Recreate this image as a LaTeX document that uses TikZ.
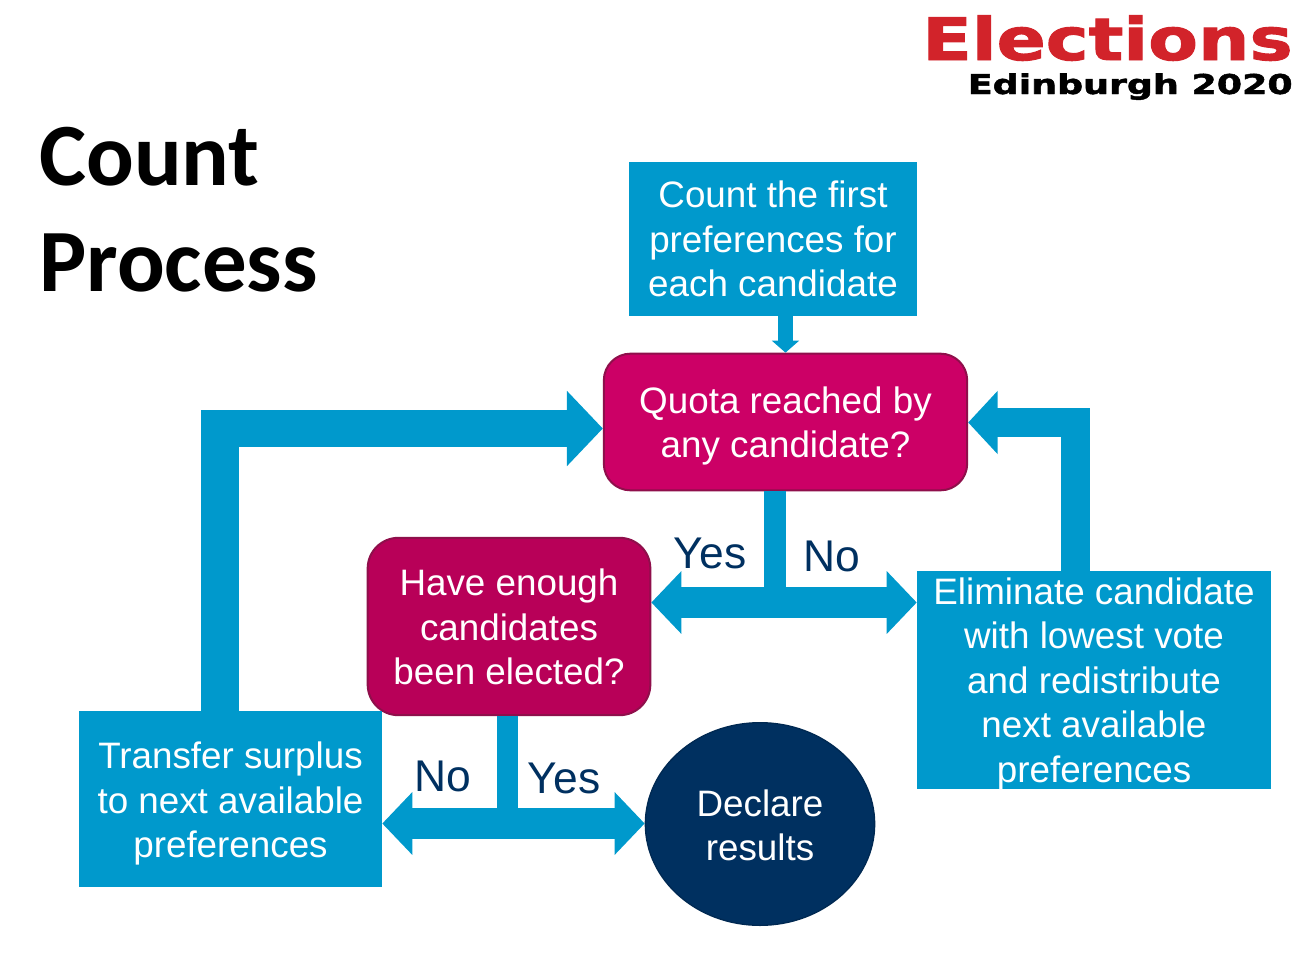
\documentclass[tikz,border=0pt]{standalone}
\usepackage{fontspec}
\setmainfont{Liberation Sans}
\newfontfamily\titlefont{Carlito}
\newfontfamily\logofont[BoldFeatures={FakeBold=1.6}]{DejaVu Sans}
\usetikzlibrary{arrows.meta,shapes.geometric}
\definecolor{flowblue}{HTML}{0099CC}
\definecolor{quotared}{HTML}{CC0066}
\definecolor{enoughred}{HTML}{B80058}
\definecolor{edgered}{HTML}{8F0F4B}
\definecolor{navy}{HTML}{003060}
\definecolor{logored}{HTML}{D2232A}
\newcommand{\dropline}[1]{\rule{0pt}{#1}}
\tikzset{
  boxtext/.style={text=white, align=center, inner sep=0pt,
    font=\fontsize{27.6}{33.4}\selectfont},
  bluebox/.style={boxtext, fill=flowblue},
  askbox/.style={boxtext, draw=edgered, line width=1.5pt, rounded corners=20pt},
  answer/.style={text=navy, inner sep=0pt, font=\fontsize{33.3}{38}\selectfont},
  flow/.style={draw=flowblue, line width=#1, line join=miter},
  flow/.default=23.25pt,
  bothheads/.style={{Triangle[length=22.5pt,width=45.75pt]}-{Triangle[length=22.5pt,width=45.75pt]}},
}
\begin{document}
\begin{tikzpicture}[x=0.75pt, y=-0.75pt]
\useasboundingbox (0,0) rectangle (1309,967);

% Title and logo
\node[anchor=base west, inner sep=0pt, align=left, font=\titlefont\bfseries\fontsize{66.7}{79.5}\selectfont] (title) at (39,291) {Count\\Process};
\node[anchor=base east, inner sep=0pt, text=logored, xscale=1.235, font=\logofont\bfseries\fontsize{44}{50}\selectfont] (logotop) at (1293,60) {Elections};
\node[anchor=base east, inner sep=0pt, xscale=1.33, font=\logofont\bfseries\fontsize{20.5}{24}\selectfont] (logobot) at (1293,94) {Edinburgh 2020};

% Boxes
\node[bluebox, minimum width=216pt, minimum height=115.5pt] (count) at (773,239) {Count the first\\preferences for\\each candidate};
\node[askbox, fill=quotared, minimum width=272.5pt, minimum height=102.5pt] (quota) at (785.5,422) {\dropline{26pt}Quota reached by\\any candidate?};
\node[askbox, fill=enoughred, minimum width=212pt, minimum height=133pt, rounded corners=23pt] (enough) at (509,626.5) {\dropline{21pt}Have enough\\candidates\\been elected?};
\node[bluebox, minimum width=265.5pt, minimum height=163.5pt] (elim) at (1094,680) {Eliminate candidate\\with lowest vote\\and redistribute\\next available\\\smash{preferences}};
\node[bluebox, minimum width=227.25pt, minimum height=132pt] (transfer) at (230.5,799) {\dropline{26.8pt}Transfer surplus\\to next available\\preferences};
\node[boxtext, ellipse, fill=navy, draw=navy!85!black, line width=1pt, minimum width=172pt, minimum height=152pt] (declare) at (760,824) {\dropline{22.2pt}Declare\\results};

% Junctions on the fat arrows
\coordinate (split) at (775,602.5);
\coordinate (finish) at (507.5,823.5);
\coordinate (loopl) at (220,428.5);
\coordinate (loopr) at (1075.5,422.5);

% Fat arrows
\draw[flow=11pt, -{Triangle[length=9pt,width=20pt]}] (count.south -| quota.north) -- (quota.north);
\draw[flow=16.5pt] (quota.south -| split) -- (split);
\draw[flow, bothheads] (enough.east |- split) -- (elim.west |- split);
\draw[flow=16pt] (enough.south -| finish) -- (finish);
\draw[flow, bothheads] (transfer.east |- finish) -- (declare.west |- finish);
\draw[flow=28pt, -{Triangle[length=27pt,width=55pt]}] (transfer.north -| loopl) |- (quota.west |- loopl);
\draw[flow=22pt, -{Triangle[length=22pt,width=46pt]}] (elim.north -| loopr) |- (quota.east |- loopr);

% Yes and No labels
\foreach \nm/\x/\y/\lbl in {yesa/710/553/Yes, noa/832/556/No, nob/443/776/No, yesb/564/778/Yes} {
  \node[answer] (\nm) at (\x,\y) {\lbl};
}
\end{tikzpicture}
\end{document}
